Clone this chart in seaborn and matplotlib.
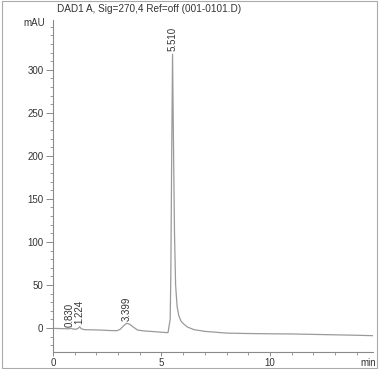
import matplotlib
matplotlib.use("Agg")
import matplotlib.pyplot as plt
from matplotlib.ticker import MultipleLocator
from matplotlib.patches import Rectangle
import seaborn as sns
import pandas as pd

# Chromatogram (time in min, signal in mAU)
time_min = [0.0, 0.4, 0.75, 0.83, 0.9, 1.05, 1.16, 1.224, 1.3, 1.45, 1.8, 2.2, 2.6,
            2.95, 3.1, 3.25, 3.399, 3.55, 3.7, 3.9, 4.2, 4.6, 5.0, 5.3, 5.40, 5.43,
            5.47, 5.51, 5.55, 5.60, 5.65, 5.72, 5.80, 5.90, 6.0, 6.2, 6.5, 7.0, 7.5,
            8.0, 9.0, 10.0, 11.0, 12.0, 13.0, 14.0, 14.75]
signal_mau = [-0.5, -0.8, -1.0, -0.3, -1.2, -1.5, -0.5, 1.5, -1.0, -2.0, -2.2, -2.5, -3.0,
              -3.2, -1.5, 2.5, 5.5, 4.0, 1.0, -2.5, -3.5, -4.2, -5.0, -5.5, 10.0, 60.0,
              200.0, 318.0, 220.0, 110.0, 50.0, 25.0, 14.0, 8.0, 5.0, 1.0, -2.0, -4.0, -5.0,
              -6.0, -6.5, -6.8, -7.0, -7.5, -8.0, -8.5, -9.0]

peak_labels = ["0.830", "1.224", "3.399", "5.510"]
peak_times = [0.78, 1.20, 3.40, 5.51]
peak_label_base = [1.5, 4.5, 7.5, 322.0]

title_text = "DAD1 A, Sig=270,4 Ref=off (001-0101.D)"
y_unit = "mAU"
x_unit = "min"
y_major_ticks = [0, 50, 100, 150, 200, 250, 300]
x_major_ticks = [0, 5, 10]

df = pd.DataFrame({"time": time_min, "signal": signal_mau})

sns.set_style("white")
plt.rcParams["font.family"] = ["Liberation Sans", "DejaVu Sans"]

fig = plt.figure(figsize=(3.79, 3.69), dpi=100)
ax = fig.add_axes([0.140, 0.046, 0.844, 0.900])

line_col = "#9a9a9a"
axis_col = "#8a8a8a"
text_col = "#333333"

sns.lineplot(data=df, x="time", y="signal", ax=ax, color=line_col, linewidth=0.9,
             estimator=None, sort=False)

ax.set_xlim(0, 14.75)
ax.set_ylim(-28, 358)
ax.set_xlabel("")
ax.set_ylabel("")

for side in ["top", "right"]:
    ax.spines[side].set_visible(False)
for side in ["left", "bottom"]:
    ax.spines[side].set_color(axis_col)
    ax.spines[side].set_linewidth(0.8)

ax.set_xticks(x_major_ticks)
ax.set_yticks(y_major_ticks)
ax.xaxis.set_minor_locator(MultipleLocator(1))
ax.yaxis.set_minor_locator(MultipleLocator(10))
ax.tick_params(axis="both", which="major", direction="out", width=0.7,
               color=axis_col, labelsize=7, labelcolor=text_col)
ax.tick_params(axis="y", which="major", length=5, pad=2)
ax.tick_params(axis="x", which="major", length=3, pad=1)
ax.tick_params(axis="both", which="minor", direction="out", length=2.5, width=0.6,
               color=axis_col)
ax.tick_params(axis="x", which="minor", length=2)
ax.tick_params(axis="x", which="both", bottom=True)
ax.tick_params(axis="y", which="both", left=True)

# unit labels placed like tick labels at the axis ends
ax.text(-0.025, 355, y_unit, transform=ax.get_yaxis_transform(), ha="right", va="center",
        fontsize=7, color=text_col)
fig.text(376 / 379, 1 - 363 / 369, x_unit, ha="right", va="center",
         fontsize=7, color=text_col)

for lab, t, yb in zip(peak_labels, peak_times, peak_label_base):
    ax.text(t, yb, lab, rotation=90, ha="center", va="bottom", fontsize=7, color=text_col)

fig.text(57 / 379, 1 - 9 / 369, title_text, ha="left", va="center", fontsize=7.2,
         color=text_col)

fig.patches.append(Rectangle((0.004, 0.004), 0.992, 0.992, transform=fig.transFigure,
                             fill=False, edgecolor="#aaaaaa", linewidth=0.8))

fig.savefig("out.png", dpi=100)
